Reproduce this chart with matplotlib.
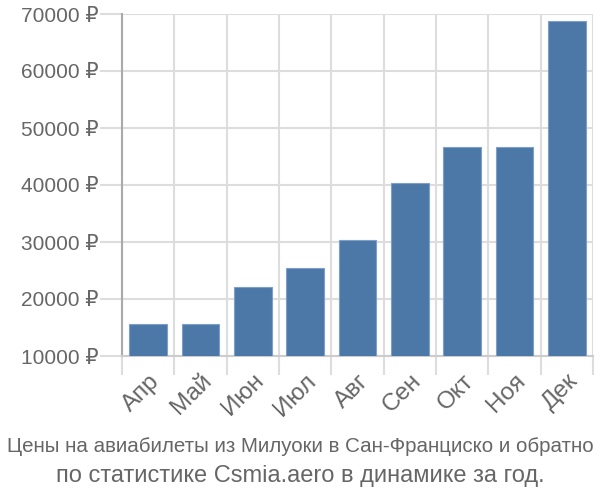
import numpy as np
import matplotlib.pyplot as plt

meses = ['Апр', 'Май', 'Июн', 'Июл', 'Авг', 'Сен', 'Окт', 'Ноя', 'Дек']
precios = [15550, 15550, 22050, 25500, 30350, 40300, 46750, 46750, 68800]
ticks_y = [10000, 20000, 30000, 40000, 50000, 60000, 70000]
titulo1 = 'Цены на авиабилеты из Милуоки в Сан-Франциско и обратно'
titulo2 = 'по статистике Csmia.aero в динамике за год.'

gris = '#666666'
plt.rcParams['font.family'] = ['Liberation Sans', 'DejaVu Sans']

fig = plt.figure(figsize=(6, 5), dpi=100)
ax = fig.add_axes([0.2033, 0.288, 0.785, 0.684])

x = np.arange(len(meses)) + 0.5
ax.bar(x, precios, width=0.72, color='#4c78a8', edgecolor='#7f9fc8', linewidth=0.8, zorder=3)

ax.set_xlim(0, len(meses))
ax.set_ylim(10000, 70000)

ax.set_yticks(ticks_y)
ax.set_yticklabels([f'{v} ₽' for v in ticks_y], fontsize=15, color=gris)
ax.set_xticks(x)
ax.set_xticklabels(meses, rotation=45, ha='right', rotation_mode='anchor', fontsize=17.5, color=gris)
ax.set_xticks(np.arange(len(meses) + 1), minor=True)

ax.tick_params(axis='y', length=16, color='#dddddd', width=1.5, pad=1)
ax.tick_params(axis='x', which='major', length=0, pad=10)
ax.tick_params(axis='x', which='minor', length=14, color='#dddddd', width=1.5)

ax.grid(True, axis='y', color='#dddddd', linewidth=1.5, zorder=0)
ax.grid(True, axis='x', which='minor', color='#dddddd', linewidth=1.5, zorder=0)

for lado in ['top', 'right']:
    ax.spines[lado].set_visible(False)
ax.spines['left'].set_color('#aaaaaa')
ax.spines['left'].set_linewidth(1.5)
ax.spines['bottom'].set_color('#cccccc')
ax.spines['bottom'].set_linewidth(1.5)

fig.text(0.5, 1 - 447 / 500, titulo1, ha='center', va='center', fontsize=14.8, color=gris,
         family=['Liberation Sans Narrow', 'Liberation Sans', 'DejaVu Sans'])
fig.text(0.5, 1 - 476 / 500, titulo2, ha='center', va='center', fontsize=17, color=gris)

fig.savefig('out.png', dpi=100)
